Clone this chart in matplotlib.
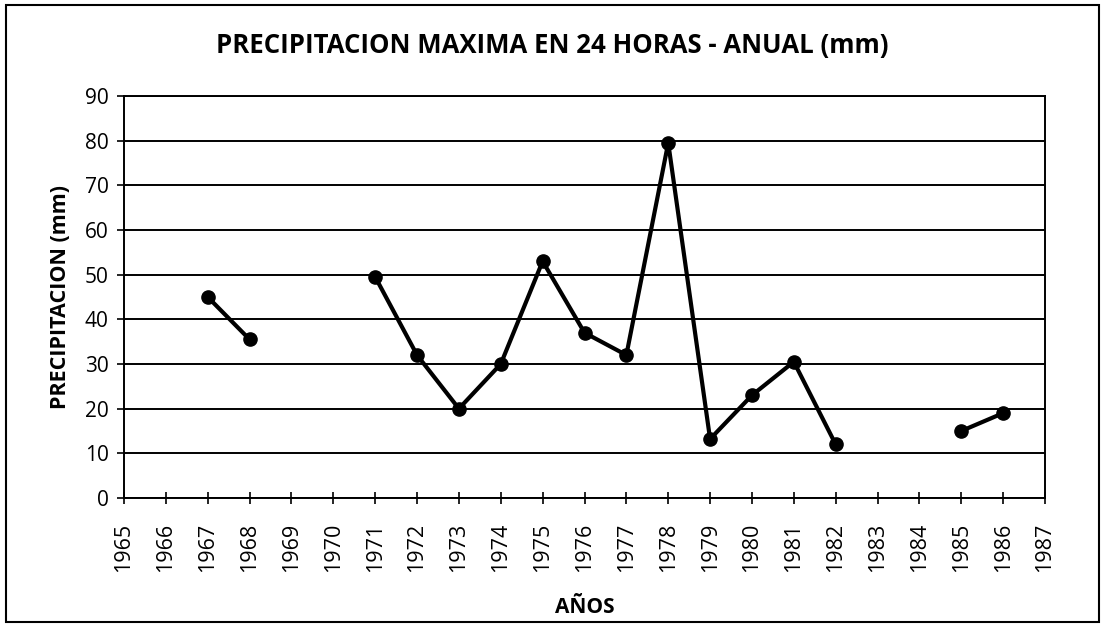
import numpy as np
import matplotlib.pyplot as plt
from matplotlib.patches import Rectangle

# -- DATA (NaN = year without record)
years = list(range(1965, 1988))
precip = [np.nan, np.nan, 45.0, 35.5, np.nan, np.nan, 49.5, 32.0, 20.0, 30.0,
          53.0, 37.0, 32.0, 79.5, 13.2, 23.0, 30.5, 12.0, np.nan, np.nan,
          15.0, 19.0, np.nan]
y_ticks = list(range(0, 100, 10))

plt.rcParams['font.family'] = ['Open Sans', 'DejaVu Sans']

fig = plt.figure(figsize=(11.05, 6.27), dpi=100)
ax = fig.add_axes([124/1105, 1 - 498/627, (1045 - 124)/1105, (498 - 96)/627])

ax.plot(years, precip, color='black', lw=3, marker='o', ms=9.5, zorder=3)

ax.set_xlim(1965, 1987)
ax.set_ylim(0, 90)
ax.set_xticks(years)
ax.set_xticklabels([str(y) for y in years], rotation=90, fontsize=15.5)
ax.set_yticks(y_ticks)
ax.tick_params(axis='y', labelsize=15, length=5, width=1.2, direction='out', pad=6)
ax.tick_params(axis='x', length=8, width=1.2, direction='inout', pad=14)
ax.grid(axis='y', color='black', lw=1.4)
for s in ax.spines.values():
    s.set_linewidth(1.4)

# title is centred on the whole chart, not on the plot area
fig.text(0.5, 1 - 45/627, 'PRECIPITACION MAXIMA EN 24 HORAS - ANUAL (mm)',
         fontsize=18.5, fontweight='bold', ha='center', va='center')
ax.set_ylabel('PRECIPITACION (mm)', fontsize=15.5, fontweight='bold', labelpad=10)
ax.set_xlabel('AÑOS', fontsize=15, fontweight='bold', labelpad=18)

# outer chart border
fig.patches.append(Rectangle((6/1105, 5/627), 1093/1105, 617/627,
                             transform=fig.transFigure, fill=False,
                             ec='black', lw=1.5))

fig.savefig('out.png', dpi=100)
